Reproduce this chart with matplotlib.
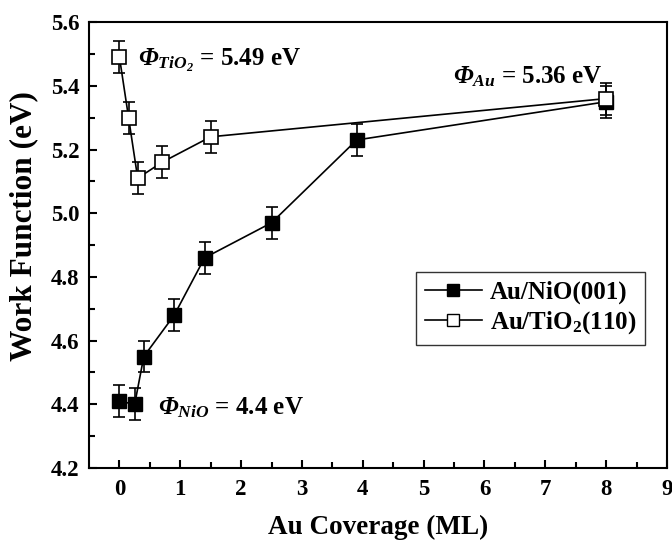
import numpy as np
import matplotlib.pyplot as plt
from matplotlib.lines import Line2D

plt.rcParams['font.family'] = 'Liberation Serif'
plt.rcParams['font.weight'] = 'bold'
plt.rcParams['mathtext.fontset'] = 'custom'
# rm set to italic so the Greek capital Phi comes out slanted
plt.rcParams['mathtext.rm'] = 'Liberation Serif:italic:bold'
plt.rcParams['mathtext.it'] = 'Liberation Serif:italic:bold'
plt.rcParams['mathtext.bf'] = 'Liberation Serif:bold'

# Au/NiO(001)
nio_x = [0, 0.25, 0.4, 0.9, 1.4, 2.5, 3.9, 8]
nio_y = [4.41, 4.40, 4.55, 4.68, 4.86, 4.97, 5.23, 5.35]
nio_err = [0.05, 0.05, 0.05, 0.05, 0.05, 0.05, 0.05, 0.05]

# Au/TiO2(110)
tio_x = [0, 0.15, 0.3, 0.7, 1.5, 8]
tio_y = [5.49, 5.30, 5.11, 5.16, 5.24, 5.36]
tio_err = [0.05, 0.05, 0.05, 0.05, 0.05, 0.05]

fig = plt.figure(figsize=(6.72, 5.4), dpi=100)
ax = fig.add_axes([0.1325, 0.1333, 0.86, 0.8257])

ax.errorbar(nio_x, nio_y, yerr=nio_err, color='black', marker='s', ms=9.5,
            mfc='black', mec='black', lw=1.2, capsize=4, elinewidth=1.2,
            capthick=1.2)
ax.errorbar(tio_x, tio_y, yerr=tio_err, color='black', marker='s', ms=9.5,
            mfc='white', mec='black', mew=1.2, lw=1.2, capsize=4,
            elinewidth=1.2, capthick=1.2)

ax.set_xlim(-0.5, 9)
ax.set_ylim(4.2, 5.6)
ax.set_xticks(range(0, 10))
ax.set_xticks(np.arange(0.5, 9, 1.0), minor=True)
ax.set_yticks(np.arange(4.2, 5.61, 0.2))
ax.set_yticks(np.arange(4.3, 5.6, 0.2), minor=True)
ax.yaxis.set_major_formatter(plt.FormatStrFormatter('%.1f'))
ax.tick_params(which='both', direction='in', labelsize=16.5, width=1.5)
ax.tick_params(which='major', length=6)
ax.tick_params(which='minor', length=4)
ax.tick_params(axis='x', which='major', pad=8)
ax.tick_params(axis='y', which='major', pad=7)
for s in ax.spines.values():
    s.set_linewidth(1.5)

ax.set_xlabel('Au Coverage (ML)', fontsize=19.5, fontweight='bold')
ax.set_ylabel('Work Function (eV)', fontsize=22.5, fontweight='bold')
ax.xaxis.set_label_coords(0.5, -0.105)
ax.yaxis.set_label_coords(-0.088, 0.543)

ax.text(0.31, 5.48, r'$\Phi_{TiO_2}$ = 5.49 eV', fontsize=18,
        fontweight='bold', va='center')
ax.text(5.49, 5.43, r'$\Phi_{Au}$ = 5.36 eV', fontsize=18,
        fontweight='bold', va='center')
ax.text(0.64, 4.39, r'$\Phi_{NiO}$ = 4.4 eV', fontsize=18,
        fontweight='bold', va='center')

handles = [
    Line2D([], [], color='black', lw=1.2, marker='s', ms=8, mfc='black', mec='black'),
    Line2D([], [], color='black', lw=1.2, marker='s', ms=8, mfc='white', mec='black'),
]
labels = ['Au/NiO(001)', r'Au/TiO$_\mathbf{2}$(110)']
leg = ax.legend(handles, labels, loc='upper right', bbox_to_anchor=(0.962, 0.44),
                fontsize=18, frameon=True, fancybox=False, edgecolor='black',
                handlelength=2.3, handletextpad=0.3, borderpad=0.35,
                labelspacing=0.2, borderaxespad=0)
leg.get_frame().set_linewidth(1.0)

fig.savefig('out.png', dpi=100)
